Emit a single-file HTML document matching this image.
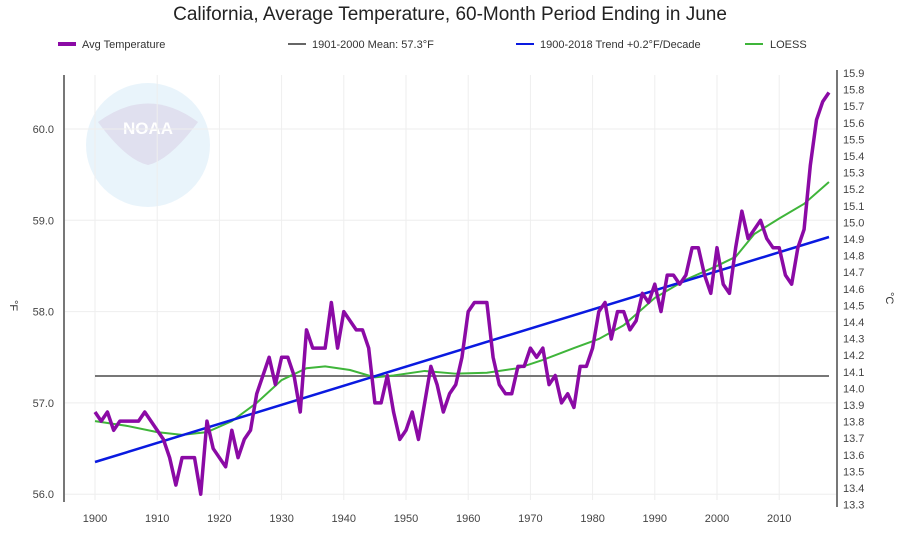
<!DOCTYPE html>
<html><head><meta charset="utf-8"><style>
body{margin:0;background:#fff;width:900px;height:552px;overflow:hidden;font-family:"Liberation Sans",sans-serif}
</style></head><body>
<svg id="s" width="900" height="552" xmlns="http://www.w3.org/2000/svg" font-family="Liberation Sans, sans-serif">
<text x="450" y="20" font-size="19" text-anchor="middle" fill="#222">California, Average Temperature, 60-Month Period Ending in June</text>
<line x1="58" y1="44" x2="76" y2="44" stroke="#8b0aa5" stroke-width="4"/>
<text x="82" y="48" font-size="11" fill="#333">Avg Temperature</text>
<line x1="288" y1="44" x2="306" y2="44" stroke="#666" stroke-width="2"/>
<text x="312" y="48" font-size="11" fill="#333">1901-2000 Mean: 57.3°F</text>
<line x1="516" y1="44" x2="534" y2="44" stroke="#0a1ae0" stroke-width="2"/>
<text x="540" y="48" font-size="11" fill="#333">1900-2018 Trend +0.2°F/Decade</text>
<line x1="745" y1="44" x2="763" y2="44" stroke="#3fb53a" stroke-width="2"/>
<text x="770" y="48" font-size="11" fill="#333">LOESS</text>
<g opacity="0.55">
<circle cx="148" cy="145" r="62" fill="#d8ecf8"/>
<path d="M98,122 Q148,85 198,122 Q170,160 148,165 Q126,160 98,122Z" fill="#c7c7e2"/>
<text x="148" y="134" font-size="17" font-weight="bold" fill="#fff" text-anchor="middle">NOAA</text>
</g>
<g id="grid"></g>
<line x1="64" y1="75" x2="64" y2="502" stroke="#777" stroke-width="2"/>
<line x1="837" y1="70" x2="837" y2="507" stroke="#777" stroke-width="2"/>
<text x="10" y="300" font-size="11" fill="#333" transform="rotate(90 10 300)">°F</text>
<text x="886" y="292" font-size="11" fill="#333" transform="rotate(90 886 292)">°C</text>
<line x1="95" y1="376" x2="829" y2="376" stroke="#777" stroke-width="2"/>
<polyline id="loess" fill="none" stroke="#3fb53a" stroke-width="2"/>
<line x1="95" y1="462" x2="829" y2="237" stroke="#0a1ae0" stroke-width="2.5"/>
<polyline id="avg" fill="none" stroke="#8b0aa5" stroke-width="3.5" stroke-linejoin="round"/>
</svg>
<script>
var X=function(y){return 95+(y-1900)*6.22},Y=function(v){return 129+(60-v)*91.3};
var g=document.getElementById('grid'),ns="http://www.w3.org/2000/svg",h='';
for(var d=1900;d<=2010;d+=10){h+='<line x1="'+X(d)+'" y1="75" x2="'+X(d)+'" y2="500" stroke="#eee"/>'+'<text x="'+X(d)+'" y="522" font-size="11" fill="#444" text-anchor="middle">'+d+'</text>';}
for(var v=56;v<=60;v++){h+='<line x1="64" y1="'+Y(v)+'" x2="837" y2="'+Y(v)+'" stroke="#eee"/>'+'<text x="54" y="'+(Y(v)+4)+'" font-size="11" fill="#444" text-anchor="end">'+v.toFixed(1)+'</text>';}
for(var i=0;i<=26;i++){var c=15.9-i*0.1;h+='<text x="843" y="'+(77+i*16.6)+'" font-size="11" fill="#444">'+c.toFixed(1)+'</text>';}
g.innerHTML=h;
var a=[56.9,56.8,56.9,56.7,56.8,56.8,56.8,56.8,56.9,56.8,56.7,56.6,56.4,56.1,56.4,56.4,56.4,56.0,56.8,56.5,56.4,56.3,56.7,56.4,56.6,56.7,57.1,57.3,57.5,57.2,57.5,57.5,57.3,56.9,57.8,57.6,57.6,57.6,58.1,57.6,58.0,57.9,57.8,57.8,57.6,57.0,57.0,57.3,56.9,56.6,56.7,56.9,56.6,57.0,57.4,57.2,56.9,57.1,57.2,57.5,58.0,58.1,58.1,58.1,57.5,57.2,57.1,57.1,57.4,57.4,57.6,57.5,57.6,57.2,57.3,57.0,57.1,56.95,57.4,57.4,57.6,58.0,58.1,57.7,58.0,58.0,57.8,57.9,58.2,58.1,58.3,58.0,58.4,58.4,58.3,58.4,58.7,58.7,58.4,58.2,58.7,58.3,58.2,58.7,59.1,58.8,58.9,59.0,58.8,58.7,58.7,58.4,58.3,58.7,58.9,59.6,60.1,60.3,60.4];
document.getElementById('avg').setAttribute('points',a.map(function(v,i){return X(1900+i)+','+Y(v)}).join(' '));
var L=[[1900,56.8],[1905,56.75],[1910,56.68],[1914,56.65],[1918,56.68],[1922,56.8],[1926,57.0],[1930,57.25],[1934,57.38],[1937,57.4],[1941,57.36],[1945,57.28],[1948,57.3],[1953,57.35],[1958,57.32],[1963,57.33],[1968,57.38],[1972,57.47],[1977,57.6],[1981,57.7],[1985,57.85],[1990,58.15],[1995,58.35],[2000,58.5],[2003,58.6],[2006,58.85],[2010,59.02],[2014,59.18],[2018,59.42]];
document.getElementById('loess').setAttribute('points',L.map(function(p){return X(p[0])+','+Y(p[1])}).join(' '));
</script>
</body></html>
